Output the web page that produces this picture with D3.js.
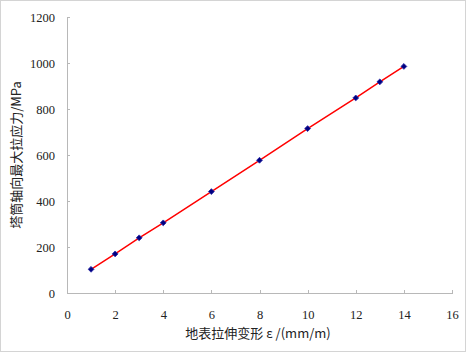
<!DOCTYPE html>
<html lang="zh">
  <head>
    <meta charset="utf-8"/>
    <title>塔筒轴向最大拉应力</title>
    <script src="https://cdn.jsdelivr.net/npm/d3@7"></script>
    <style>
      body { margin: 0; background: #fff; }
      .title { font-family: "Noto Sans CJK SC", sans-serif; font-size: 13px; fill: #222; }
    </style>
  </head>
  <body>
    <div id="chart"></div>
    <script>
      // data
      var strain = [1, 2, 3, 4, 6, 8, 10, 12, 13, 14];
      var stress = [103, 170, 240, 305, 441, 577, 715, 848, 918, 985];
      var xTicks = [0, 2, 4, 6, 8, 10, 12, 14, 16];
      var yTicks = [0, 200, 400, 600, 800, 1000, 1200];

      var w = 467, h = 353;

      var svg = d3.select("#chart")
        .append("svg")
        .attr("width", w)
        .attr("height", h);

      // outer frame
      svg.append("rect")
        .attr("x", 0.5).attr("y", 0.5)
        .attr("width", 465).attr("height", 351)
        .attr("fill", "none")
        .attr("stroke", "#d4d4d4");

      var x = d3.scaleLinear().domain([0, 16]).range([67, 452]);
      var y = d3.scaleLinear().domain([0, 1200]).range([293, 17]);

      // x axis, ticks pointing inward
      var gx = svg.append("g")
        .attr("transform", "translate(0," + y(0) + ")")
        .call(d3.axisBottom(x).tickValues(xTicks).tickFormat(d3.format("d"))
          .tickSize(-3).tickPadding(17).tickSizeOuter(0));
      // y axis, ticks pointing inward
      var gy = svg.append("g")
        .attr("transform", "translate(" + x(0) + ",0)")
        .call(d3.axisLeft(y).tickValues(yTicks).tickFormat(d3.format("d"))
          .tickSize(-3).tickPadding(12).tickSizeOuter(0));

      svg.selectAll(".domain, .tick line")
        .attr("stroke", "#b8b8b8")
        .attr("shape-rendering", "crispEdges");

      svg.selectAll(".tick text")
        .attr("font-family", "'Liberation Serif', 'DejaVu Serif', serif")
        .attr("font-size", 12.5)
        .attr("fill", "#222");
      gx.attr("font-family", null).attr("font-size", null);
      gy.attr("font-family", null).attr("font-size", null);

      // red line through the points
      var line = d3.line()
        .x(function(d, i) { return x(strain[i]); })
        .y(function(d) { return y(d); });

      svg.append("path")
        .datum(stress)
        .attr("d", line)
        .attr("fill", "none")
        .attr("stroke", "#ff0000")
        .attr("stroke-width", 1.5);

      // diamond markers (square turned 45deg)
      svg.selectAll(".pt")
        .data(stress)
        .enter()
        .append("path")
        .attr("class", "pt")
        .attr("d", d3.symbol().type(d3.symbolSquare).size(17))
        .attr("transform", function(d, i) {
          return "translate(" + x(strain[i]) + "," + y(d) + ") rotate(45)";
        })
        .attr("fill", "#000080")
        .attr("stroke", "#2a2aa8")
        .attr("stroke-width", 0.8);

      // axis titles
      svg.append("text")
        .attr("class", "title")
        .attr("x", 258)
        .attr("y", 338)
        .attr("text-anchor", "middle")
        .text("地表拉伸变形 ε /(mm/m)");

      svg.append("text")
        .attr("class", "title")
        .attr("transform", "translate(21,155) rotate(-90)")
        .attr("text-anchor", "middle")
        .text("塔筒轴向最大拉应力/MPa");
    </script>
  </body>
</html>
